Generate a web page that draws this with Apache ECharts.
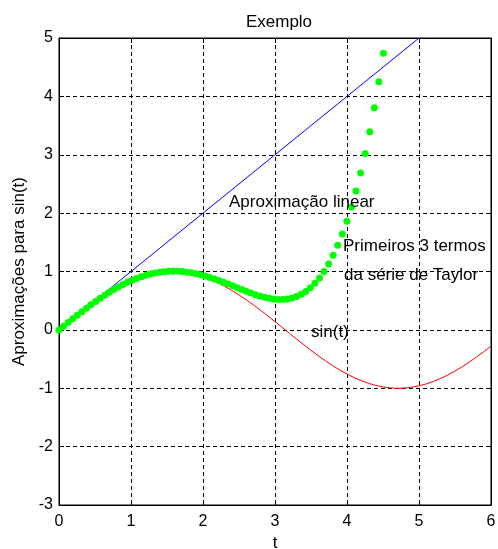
<!DOCTYPE html>
<html>
<head>
<meta charset="utf-8">
<script src="https://cdn.jsdelivr.net/npm/echarts@6/dist/echarts.min.js"></script>
<style>
  html, body { margin: 0; padding: 0; background: #fff; }
  #main { width: 498px; height: 549px; }
</style>
</head>
<body>
<div id="main"></div>
<script>
var linearT = [0, 5];
var linearVals = [0, 5];

var sinT = [0, 0.1, 0.2, 0.3, 0.4, 0.5, 0.6, 0.7, 0.8, 0.9, 1.0, 1.1, 1.2, 1.3, 1.4, 1.5, 1.6, 1.7, 1.8, 1.9,
  2.0, 2.1, 2.2, 2.3, 2.4, 2.5, 2.6, 2.7, 2.8, 2.9, 3.0, 3.1, 3.2, 3.3, 3.4, 3.5, 3.6, 3.7, 3.8, 3.9,
  4.0, 4.1, 4.2, 4.3, 4.4, 4.5, 4.6, 4.7, 4.8, 4.9, 5.0, 5.1, 5.2, 5.3, 5.4, 5.5, 5.6, 5.7, 5.8, 5.9, 6.0];
var sinVals = [0, 0.0998, 0.1987, 0.2955, 0.3894, 0.4794, 0.5646, 0.6442, 0.7174, 0.7833,
  0.8415, 0.8912, 0.9320, 0.9636, 0.9854, 0.9975, 0.9996, 0.9917, 0.9738, 0.9463,
  0.9093, 0.8632, 0.8085, 0.7457, 0.6755, 0.5985, 0.5155, 0.4274, 0.3350, 0.2392,
  0.1411, 0.0416, -0.0584, -0.1577, -0.2555, -0.3508, -0.4425, -0.5298, -0.6119, -0.6878,
  -0.7568, -0.8183, -0.8716, -0.9162, -0.9516, -0.9775, -0.9937, -0.9999, -0.9962, -0.9825,
  -0.9589, -0.9258, -0.8835, -0.8323, -0.7728, -0.7055, -0.6313, -0.5507, -0.4646, -0.3739, -0.2794];

var taylorT = [0, 0.063, 0.127, 0.190, 0.254, 0.317, 0.381, 0.444, 0.508, 0.571,
  0.635, 0.698, 0.762, 0.825, 0.889, 0.952, 1.015, 1.079, 1.142, 1.206,
  1.269, 1.333, 1.396, 1.460, 1.523, 1.587, 1.650, 1.714, 1.777, 1.841,
  1.904, 1.967, 2.031, 2.094, 2.158, 2.221, 2.285, 2.348, 2.412, 2.475,
  2.539, 2.602, 2.666, 2.729, 2.793, 2.856, 2.919, 2.983, 3.046, 3.110,
  3.173, 3.237, 3.300, 3.364, 3.427, 3.491, 3.554, 3.618, 3.681, 3.745,
  3.808, 3.871, 3.935, 3.998, 4.062, 4.125, 4.189, 4.252, 4.316, 4.379,
  4.443, 4.506];
var taylorVals = [0, 0.063, 0.127, 0.189, 0.251, 0.312, 0.372, 0.430, 0.486, 0.541,
  0.593, 0.643, 0.690, 0.735, 0.776, 0.815, 0.850, 0.882, 0.910, 0.935,
  0.956, 0.973, 0.987, 0.997, 1.003, 1.005, 1.003, 0.998, 0.989, 0.977,
  0.962, 0.944, 0.923, 0.899, 0.873, 0.845, 0.816, 0.785, 0.754, 0.722,
  0.690, 0.660, 0.630, 0.603, 0.578, 0.557, 0.540, 0.527, 0.521, 0.521,
  0.529, 0.546, 0.572, 0.609, 0.658, 0.721, 0.798, 0.890, 1.000, 1.129,
  1.278, 1.448, 1.642, 1.861, 2.107, 2.381, 2.686, 3.023, 3.395, 3.804,
  4.251, 4.739];

var xTicks = [0, 1, 2, 3, 4, 5, 6];
var yTicks = [-3, -2, -1, 0, 1, 2, 3, 4, 5];

function pairs(xs, ys) {
  return xs.map(function (x, i) { return [x, ys[i]]; });
}

var font = "'Liberation Sans', Arial, sans-serif";
var myChart = echarts.init(document.getElementById("main"));

var gridLine = { show: true, lineStyle: { color: "#000", width: 1, type: [4, 3] } };

option = {
  animation: false,
  backgroundColor: "#fff",
  textStyle: { fontFamily: font },
  title: {
    text: "Exemplo",
    left: 274,
    textAlign: "center",
    top: 9,
    textStyle: { color: "#000", fontSize: 17, fontWeight: "normal", fontFamily: font }
  },
  grid: {
    left: 59,
    right: 7,
    top: 38,
    bottom: 44,
    containLabel: false,
    outerBoundsMode: "none",
    show: true,
    borderColor: "#000",
    borderWidth: 1
  },
  xAxis: [
    {
      type: "value",
      min: xTicks[0],
      max: xTicks[xTicks.length - 1],
      interval: 1,
      name: "t",
      nameLocation: "middle",
      nameGap: 27,
      nameTextStyle: { color: "#000", fontSize: 17, fontFamily: font },
      axisLine: { onZero: false, lineStyle: { color: "#000" } },
      axisTick: { inside: true, length: 5, lineStyle: { color: "#000" } },
      axisLabel: { color: "#000", fontSize: 16, margin: 9, fontFamily: font },
      splitLine: gridLine
    },
    {
      type: "value",
      position: "top",
      min: xTicks[0],
      max: xTicks[xTicks.length - 1],
      interval: 1,
      axisLine: { onZero: false, lineStyle: { color: "#000" } },
      axisTick: { inside: true, length: 5, lineStyle: { color: "#000" } },
      axisLabel: { show: false },
      splitLine: { show: false }
    }
  ],
  yAxis: [
    {
      type: "value",
      min: yTicks[0],
      max: yTicks[yTicks.length - 1],
      interval: 1,
      name: "Aproximações para sin(t)",
      nameLocation: "middle",
      nameGap: 28,
      nameTextStyle: { color: "#000", fontSize: 17, fontFamily: font },
      axisLine: { onZero: false, lineStyle: { color: "#000" } },
      axisTick: { inside: true, length: 5, lineStyle: { color: "#000" } },
      axisLabel: { color: "#000", fontSize: 16, margin: 6, fontFamily: font },
      splitLine: gridLine
    },
    {
      type: "value",
      position: "right",
      min: yTicks[0],
      max: yTicks[yTicks.length - 1],
      interval: 1,
      axisLine: { onZero: false, lineStyle: { color: "#000" } },
      axisTick: { inside: true, length: 5, lineStyle: { color: "#000" } },
      axisLabel: { show: false },
      splitLine: { show: false }
    }
  ],
  series: [
    {
      name: "Aproximação linear",
      type: "line",
      data: pairs(linearT, linearVals),
      showSymbol: false,
      z: 2,
      lineStyle: { color: "#0000ff", width: 1 },
      clip: true
    },
    {
      name: "sin(t)",
      type: "line",
      data: pairs(sinT, sinVals),
      showSymbol: false,
      z: 2,
      lineStyle: { color: "#ff0000", width: 1 },
      clip: true
    },
    {
      name: "Primeiros 3 termos",
      type: "scatter",
      data: pairs(taylorT, taylorVals),
      symbol: "circle",
      symbolSize: 7,
      z: 5,
      itemStyle: { color: "#00ff00", opacity: 1 },
      clip: true
    }
  ],
  graphic: [
    { type: "text", x: 229, y: 202, z: 10, style: { text: "Aproximação linear", fill: "#000", font: "17px " + font, verticalAlign: "middle" } },
    { type: "text", x: 343, y: 246, z: 10, style: { text: "Primeiros 3 termos", fill: "#000", font: "17px " + font, verticalAlign: "middle" } },
    { type: "text", x: 344, y: 275, z: 10, style: { text: "da série de Taylor", fill: "#000", font: "17px " + font, verticalAlign: "middle" } },
    { type: "text", x: 311, y: 332, z: 10, style: { text: "sin(t)", fill: "#000", font: "17px " + font, verticalAlign: "middle" } }
  ]
};

myChart.setOption(option);
</script>
</body>
</html>
